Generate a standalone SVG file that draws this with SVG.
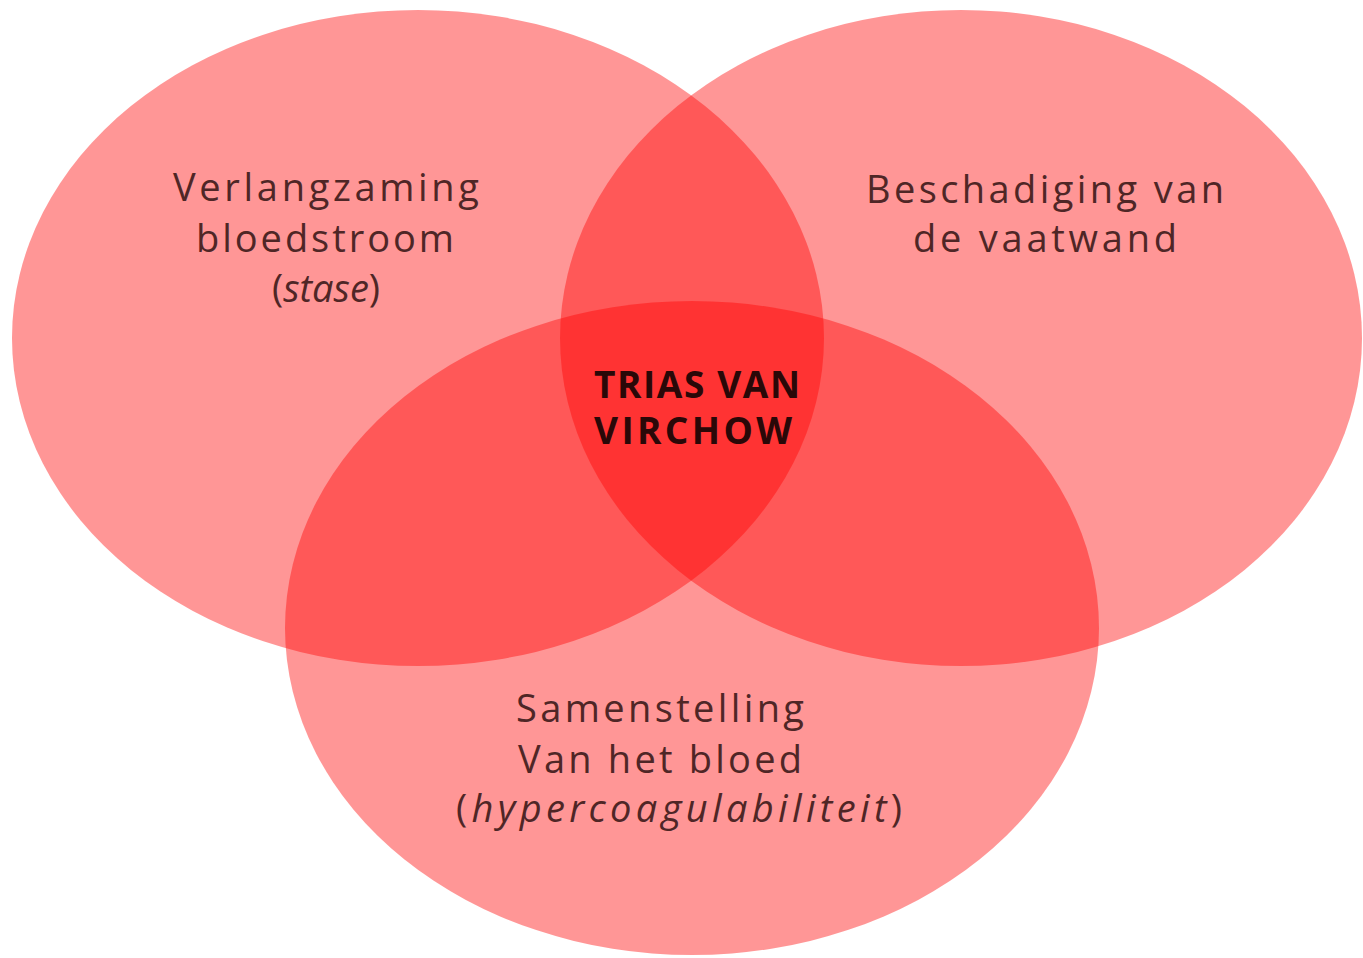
<svg xmlns="http://www.w3.org/2000/svg" width="1363" height="958" viewBox="0 0 1363 958">
<style>
.set{fill:#ff0000;fill-opacity:0.41}
.lbl{font-family:"Open Sans","Noto Sans","Liberation Sans",sans-serif;font-size:38px;fill:#4f2626;text-anchor:middle}
.core{font-family:"Open Sans","Noto Sans","Liberation Sans",sans-serif;font-size:37px;font-weight:bold;fill:#2a0808;text-anchor:middle}
</style>
<rect width="1363" height="958" fill="#ffffff"/>
<g id="set-stase">
<ellipse class="set" cx="418" cy="338" rx="406" ry="328"/>
<text class="lbl" x="326" y="201" textLength="306" lengthAdjust="spacing">Verlangzaming</text>
<text class="lbl" x="325" y="252" textLength="258" lengthAdjust="spacing">bloedstroom</text>
<text class="lbl" x="326" y="302">(<tspan font-style="italic">stase</tspan>)</text>
</g>
<g id="set-vaatwand">
<ellipse class="set" cx="961" cy="338" rx="401" ry="328"/>
<text class="lbl" x="1045" y="203" textLength="358" lengthAdjust="spacing">Beschadiging van</text>
<text class="lbl" x="1045" y="252" textLength="264" lengthAdjust="spacing">de vaatwand</text>
</g>
<g id="set-bloed">
<ellipse class="set" cx="692" cy="628" rx="407" ry="327"/>
<text class="lbl" x="660" y="722" textLength="288" lengthAdjust="spacing">Samenstelling</text>
<text class="lbl" x="660" y="773" textLength="284" lengthAdjust="spacing">Van het bloed</text>
<text class="lbl" x="679" y="822" font-size="40" textLength="446" lengthAdjust="spacing">(<tspan font-style="italic">hypercoagulabiliteit</tspan>)</text>
</g>
<g id="center">
<text class="core" x="697" y="398" textLength="206" lengthAdjust="spacing">TRIAS VAN</text>
<text class="core" x="693" y="444" textLength="198" lengthAdjust="spacing">VIRCHOW</text>
</g>
<g id="connectors"/>
</svg>
